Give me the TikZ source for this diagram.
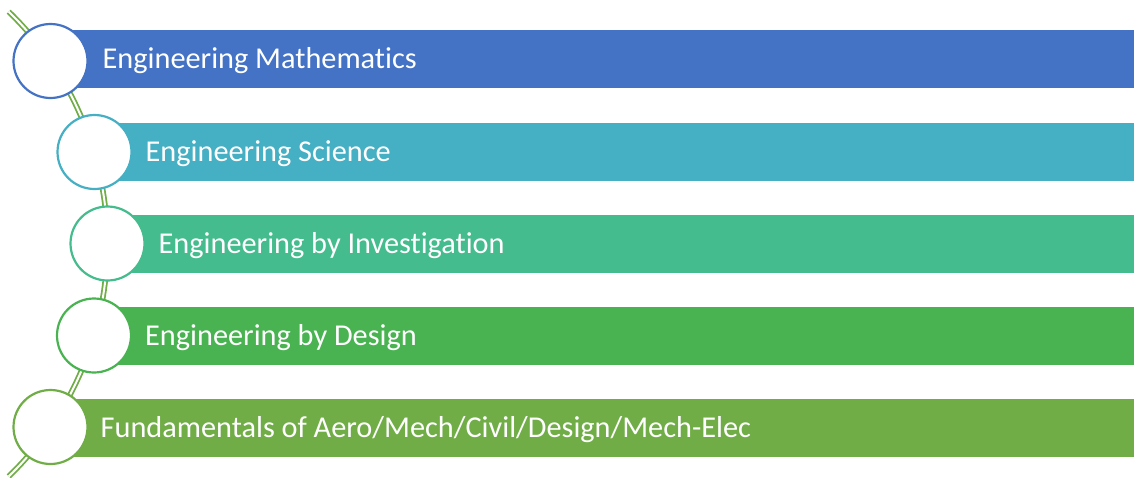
\documentclass[tikz,border=0pt]{standalone}
\usepackage{fontspec}
\setmainfont{Carlito}[Ligatures=NoCommon]
\usetikzlibrary{positioning}
\definecolor{mathblue}{HTML}{4472C4}
\definecolor{sciteal}{HTML}{45AFC3}
\definecolor{invgreen}{HTML}{45BC8D}
\definecolor{desgreen}{HTML}{48B350}
\definecolor{fundgreen}{HTML}{70AD47}

\begin{document}
\begin{tikzpicture}[x=1pt, y=-1pt,
    bar/.style={anchor=west, minimum height=58pt, inner sep=0pt},
    ring/.style={circle, draw, fill=white, line width=2.2pt,
                 minimum size=74pt, inner sep=0pt},
    lbl/.style={anchor=base west, inner sep=0pt, text=white,
                font=\fontsize{30.3}{36}\selectfont},
    rail/.style={draw=fundgreen, line width=1.8pt, double=white,
                 double distance=2pt}]
  \useasboundingbox (0,0) rectangle (1134,477);

  % bars
  \node[bar, fill=mathblue, minimum width=1083.5pt] (mathbar) at (50.5,59) {};
  \node[bar, fill=sciteal, minimum width=1039.5pt] (scibar) at (94.5,152) {};
  \node[bar, fill=invgreen, minimum width=1026.5pt] (invbar) at (107.5,244) {};
  \node[bar, fill=desgreen, minimum width=1040pt] (desbar) at (94,336) {};
  \node[bar, fill=fundgreen, minimum width=1083.5pt] (fundbar) at (50.5,428) {};

  \node[lbl] (mathtxt) at ([shift={(52,9)}]mathbar.west) {Engineering Mathematics};
  \node[lbl] (scitxt) at ([shift={(51,9)}]scibar.west) {Engineering Science};
  \node[lbl] (invtxt) at ([shift={(51,9)}]invbar.west) {Engineering by Investigation};
  \node[lbl] (destxt) at ([shift={(51,9)}]desbar.west) {Engineering by Design};
  \node[lbl] (fundtxt) at ([shift={(50,9)}]fundbar.west) {Fundamentals of Aero/Mech/Civil/Design/Mech-Elec};

  % rail behind the rings
  \coordinate (railtop) at (8.7,11.7);
  \draw[rail] (railtop) arc[start angle=-46, end angle=46, radius=323];

  % rings
  \node[ring, draw=mathblue] (mathring) at (50.5,61) {};
  \node[ring, draw=sciteal] (sciring) at (94.5,152) {};
  \node[ring, draw=invgreen] (invring) at (107.5,243.5) {};
  \node[ring, draw=desgreen] (desring) at (94,335.5) {};
  \node[ring, draw=fundgreen] (fundring) at (50.5,427) {};
\end{tikzpicture}
\end{document}
